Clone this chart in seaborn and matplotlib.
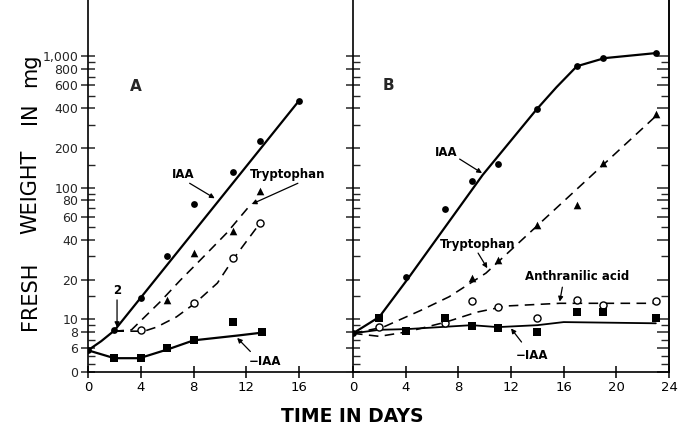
import numpy as np
import matplotlib
matplotlib.use("Agg")
import matplotlib.pyplot as plt
import seaborn as sns
from matplotlib.ticker import FixedLocator, FixedFormatter, NullFormatter

# ---------------- data ----------------
# Panel A : measured points
a_iaa_days = [0, 2, 4, 6, 8, 11, 13, 16]
a_iaa_vals = [5.5, 8.2, 14.4, 30, 75, 131, 226, 455]
a_trp_days = [6, 8, 11, 13]
a_trp_vals = [13.9, 32, 47, 94]
a_open_days = [4, 8, 11, 13]
a_open_vals = [8.2, 13.2, 29, 54]
a_minus_days = [2, 4, 6, 8, 11, 13.2]
a_minus_vals = [3.5, 3.5, 6.0, 6.9, 9.5, 8.0]
# Panel A : hand-drawn curves
a_iaa_line_days = [0, 1, 2, 16]
a_iaa_line_vals = [5.5, 6.8, 8.2, 460]
a_trp_line_days = [2, 3.3, 5.45, 7.0, 8.5, 10.5, 12.4]
a_trp_line_vals = [8.1, 8.3, 13.5, 19.8, 28.1, 45.1, 76]
a_open_line_days = [2, 4.25, 5.2, 6.7, 8.1, 9.8, 11, 12.8]
a_open_line_vals = [8.1, 8.1, 8.7, 10.4, 13.2, 18.8, 28.6, 50]
a_minus_line_days = [0, 2, 3.9, 6.1, 8, 11.3, 13.2]
a_minus_line_vals = [5.5, 3.5, 3.5, 5.8, 6.9, 7.5, 7.9]

# Panel B : measured points
b_iaa_days = [0, 4, 7, 9, 11, 14, 17, 19, 23]
b_iaa_vals = [7.8, 21, 69, 112, 151, 396, 838, 966, 1055]
b_trp_days = [9, 11, 14, 17, 19, 23]
b_trp_vals = [20.5, 28, 52, 74, 153, 362]
b_ant_days = [2, 7, 9, 11, 14, 17, 19, 23]
b_ant_vals = [8.7, 9.3, 13.7, 12.3, 10.2, 13.9, 12.8, 13.7]
b_minus_days = [2, 4, 7, 9, 11, 14, 17, 19, 23]
b_minus_vals = [10.2, 8.1, 10.2, 8.8, 8.6, 8.0, 11.3, 11.3, 10.2]
# Panel B : hand-drawn curves
b_iaa_line_days = [0, 2, 4.2, 9.85, 13.9, 15.45, 17, 19.1, 23]
b_iaa_line_vals = [7.8, 10.4, 20.5, 125, 389, 580, 838, 966, 1055]
b_trp_line_days = [0, 2.3, 5.1, 7.3, 10.1, 23]
b_trp_line_vals = [7.8, 8.7, 11.6, 14.8, 22.4, 350]
b_ant_line_days = [0, 2, 4.1, 7.05, 9.4, 11.7, 15.7, 23]
b_ant_line_vals = [7.8, 7.4, 8.0, 9.5, 11.3, 12.6, 13.2, 13.2]
b_minus_line_days = [0, 2, 4.1, 9, 11, 14, 16, 23]
b_minus_line_vals = [7.8, 8.3, 8.4, 9.0, 8.7, 9.0, 9.5, 9.3]

# axis ticks
y_major = [0, 6, 8, 10, 20, 40, 60, 80, 100, 200, 400, 600, 800, 1000]
y_major_labels = ["0", "6", "8", "10", "20", "40", "60", "80", "100",
                  "200", "400", "600", "800", "1,000"]
y_minor = [2, 4, 7, 9, 15, 30, 50, 70, 90, 150, 300, 500, 700, 900]
a_xticks = [0, 4, 8, 12, 16]
b_xticks = [0, 4, 8, 12, 16, 20, 24]
ylabel_words = ["FRESH", "WEIGHT", "IN", "mg"]
ylabel_word_centres = [296, 192, 113, 70]   # pixel rows of each word

# ---------------- style ----------------
sns.set_style("ticks")
plt.rcParams["font.family"] = ["DejaVu Sans"]

LOG6 = np.log10(6.0)
SLOPE = 0.03


def fwd(y):
    y = np.asarray(y, dtype=float)
    return np.where(y >= 6, np.log10(np.maximum(y, 6)), LOG6 - (6 - y) * SLOPE)


def inv(u):
    u = np.asarray(u, dtype=float)
    return np.where(u >= LOG6, 10 ** np.minimum(u, 10), 6 - (LOG6 - u) / SLOPE)


W, H = 679, 426
fig = plt.figure(figsize=(W / 100, H / 100), dpi=100)
axA = fig.add_axes([88 / W, 54 / H, 265 / W, 372 / H])
axB = fig.add_axes([353 / W, 54 / H, 316 / W, 372 / H])

solid = dict(color="black", lw=1.6)
dashed = dict(color="black", lw=1.15, linestyle=(0, (6, 4)))


def curve(ax, x, y, style):
    sns.lineplot(x=x, y=y, ax=ax, sort=False, estimator=None, legend=False, **style)


def pts(ax, x, y, marker, s, face="black", lw=0.0):
    sns.scatterplot(x=x, y=y, ax=ax, marker=marker, s=s, color=face,
                    edgecolor="black", linewidth=lw, legend=False, zorder=5)


# Panel A
curve(axA, a_iaa_line_days, a_iaa_line_vals, solid)
curve(axA, a_minus_line_days, a_minus_line_vals, solid)
curve(axA, a_trp_line_days, a_trp_line_vals, dashed)
curve(axA, a_open_line_days, a_open_line_vals, dashed)
pts(axA, a_iaa_days, a_iaa_vals, "o", 24)
pts(axA, a_trp_days, a_trp_vals, "^", 30)
pts(axA, a_open_days, a_open_vals, "o", 26, face="white", lw=1.0)
pts(axA, a_minus_days, a_minus_vals, "s", 26)

# Panel B
curve(axB, b_iaa_line_days, b_iaa_line_vals, solid)
curve(axB, b_minus_line_days, b_minus_line_vals, dict(color="black", lw=1.3))
curve(axB, b_trp_line_days, b_trp_line_vals, dashed)
curve(axB, b_ant_line_days, b_ant_line_vals, dashed)
pts(axB, b_iaa_days, b_iaa_vals, "o", 24)
pts(axB, b_trp_days, b_trp_vals, "^", 30)
pts(axB, b_ant_days, b_ant_vals, "o", 26, face="white", lw=1.0)
pts(axB, b_minus_days, b_minus_vals, "s", 26)

ytop = float(inv(fwd(0) + 372 / 131.5))
for ax, xmax, xt in [(axA, 265 / 13.2, a_xticks), (axB, 316 / 13.2, b_xticks)]:
    ax.set_yscale("function", functions=(fwd, inv))
    ax.set_ylim(0, ytop)
    ax.set_xlim(0, xmax)
    ax.set_xticks(xt)
    ax.set_xticklabels([str(t) for t in xt])
    ax.yaxis.set_major_locator(FixedLocator(y_major))
    ax.yaxis.set_minor_locator(FixedLocator(y_minor))
    ax.yaxis.set_minor_formatter(NullFormatter())
    ax.spines["top"].set_visible(False)
    for sp in ax.spines.values():
        sp.set_linewidth(1.2)
        sp.set_color("black")
    ax.set_xlabel("")
    ax.set_ylabel("")
    ax.tick_params(axis="x", which="major", direction="inout", length=9,
                   width=1.1, labelsize=9.5, pad=2, colors="black")
    ax.set_facecolor("white")

axA.spines["right"].set_visible(False)
axA.yaxis.set_major_formatter(FixedFormatter(y_major_labels))
axA.tick_params(axis="y", which="major", direction="inout", length=10,
                width=1.1, labelsize=9, pad=2)
axA.tick_params(axis="y", which="minor", direction="in", length=5, width=1.0)

axB.tick_params(axis="y", which="major", direction="inout", length=10, width=1.1,
                left=True, right=False, labelleft=False)
axB.tick_params(axis="y", which="minor", direction="in", length=5, width=1.0,
                left=True, right=False)
# right-hand spine of panel B with inward ticks
axR = axB.secondary_yaxis("right", functions=(lambda v: v, lambda v: v))
axR.set_yscale("function", functions=(fwd, inv))
axR.yaxis.set_major_locator(FixedLocator(y_major))
axR.yaxis.set_minor_locator(FixedLocator(y_minor))
axR.yaxis.set_major_formatter(NullFormatter())
axR.yaxis.set_minor_formatter(NullFormatter())
axR.tick_params(axis="y", which="major", direction="in", length=9, width=1.1)
axR.tick_params(axis="y", which="minor", direction="in", length=6, width=1.0)
axR.spines["right"].set_linewidth(1.2)

# ---------------- annotations ----------------
lab = dict(fontsize=8.5, fontweight="bold", ha="center", va="center", color="black")
arr = dict(arrowstyle="-|>", color="black", lw=0.9, mutation_scale=7,
           shrinkA=0, shrinkB=0)

axA.text(3.6, 590, "A", fontsize=11, fontweight="bold", ha="center", va="center")
axA.text(2.2, 16.5, "2", **lab)
axA.annotate("", xy=(2.2, 8.7), xytext=(2.2, 14.0), arrowprops=arr)
axA.text(7.2, 127, "IAA", **lab)
axA.annotate("", xy=(9.6, 83), xytext=(7.7, 108), arrowprops=arr)
axA.text(15.1, 127, "Tryptophan", **lab)
axA.annotate("", xy=(12.4, 75), xytext=(15.9, 108), arrowprops=arr)
axA.text(13.4, 2.6, "\u2212IAA", **lab)
axA.annotate("", xy=(11.3, 7.2), xytext=(12.3, 5.2), arrowprops=arr)

axB.text(2.7, 600, "B", fontsize=11, fontweight="bold", ha="center", va="center")
axB.text(7.1, 186, "IAA", **lab)
axB.annotate("", xy=(9.8, 129), xytext=(8.1, 165), arrowprops=arr)
axB.text(9.5, 37, "Tryptophan", **lab)
axB.annotate("", xy=(10.2, 24.4), xytext=(9.5, 31.8), arrowprops=arr)
axB.text(17.0, 21.2, "Anthranilic acid", **lab)
axB.annotate("", xy=(15.7, 13.6), xytext=(15.9, 17.5), arrowprops=arr)
axB.text(13.6, 4.2, "\u2212IAA", **lab)
axB.annotate("", xy=(12.0, 8.5), xytext=(12.8, 6.7), arrowprops=arr)

for word, yc in zip(ylabel_words, ylabel_word_centres):
    fig.text(30 / W, 1 - yc / H, word, rotation=90, fontsize=15,
             ha="center", va="center", color="black")
fig.text(352 / W, 1 - 417 / H, "TIME IN DAYS", fontsize=13.5, fontweight="bold",
         ha="center", va="center", color="black")

fig.savefig("out.png", dpi=100, facecolor="white")
